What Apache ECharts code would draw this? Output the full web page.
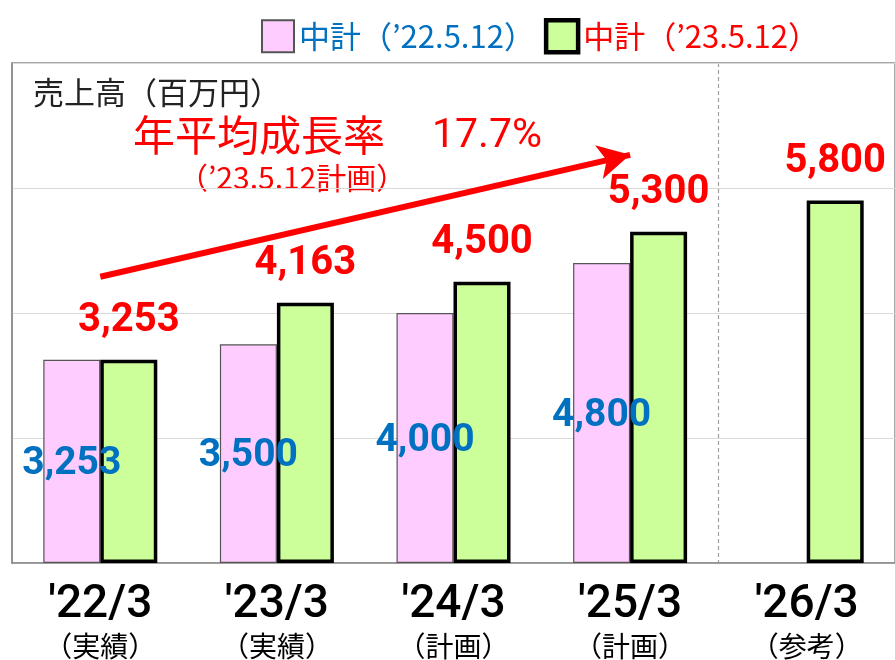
<!DOCTYPE html>
<html>
<head>
<meta charset="utf-8">
<script src="https://cdn.jsdelivr.net/npm/echarts@6/dist/echarts.min.js"></script>
<style>
	html, body { margin: 0; padding: 0; background: #fff; }
	#chart { width: 895px; height: 660px; }
</style>
</head>
<body>
<div id="chart"></div>
<script>
	// 年度（カテゴリ）
	const categories = ["'22/3", "'23/3", "'24/3", "'25/3", "'26/3"]
	const categoryNotes = ['（実績）', '（実績）', '（計画）', '（計画）', '（参考）']

	// 中計 売上高（百万円）
	const plan2022Name = '中計（’22.5.12）'
	const plan2023Name = '中計（’23.5.12）'
	const plan2022 = [3253, 3500, 4000, 4800, null]
	const plan2023 = [3253, 4163, 4500, 5300, 5800]

	// 年平均成長率の矢印（始点・終点の値）
	const arrowFrom = [categories[0], 4580]
	const arrowTo = [categories[3], 6530]

	// 縦軸
	const yMax = 8000
	const yInterval = 2000

	const CJK = '"Noto Sans CJK JP", "Noto Sans", sans-serif'
	const NUM = 'Roboto, "Noto Sans CJK JP", sans-serif'
	const BLUE = '#0070C0'
	const RED = '#FF0000'

	const fmt = (v) => Number(v).toLocaleString('en-US')

	const chart = echarts.init(document.getElementById('chart'))

	const option = {
		animation: false,
		backgroundColor: '#fff',
		grid: {
			left: 12,
			right: -7,
			top: 63,
			bottom: 97,
			show: true,
			borderColor: '#8c8c8c',
			borderWidth: 1.5,
			backgroundColor: 'transparent'
		},
		legend: {
			left: 256,
			top: 13,
			itemWidth: 32,
			itemHeight: 32,
			itemGap: 9,
			icon: 'rect',
			textStyle: { fontFamily: CJK, fontSize: 31 },
			data: [
				{ name: plan2022Name, textStyle: { color: BLUE }, itemStyle: { borderColor: '#555', borderWidth: 2 } },
				{ name: plan2023Name, textStyle: { color: RED }, itemStyle: { borderColor: '#000', borderWidth: 4.5 } }
			]
		},
		xAxis: {
			type: 'category',
			data: categories,
			axisLine: { lineStyle: { color: '#8c8c8c', width: 1.5 } },
			axisTick: { inside: true, length: 14, lineStyle: { color: '#8c8c8c' } },
			axisLabel: {
				margin: 21,
				formatter: (v, i) => '{a|' + v + '}\n{b|' + categoryNotes[i] + '}',
				rich: {
					a: { fontFamily: NUM, fontSize: 46, fontWeight: 500, color: '#000', lineHeight: 44 },
					b: { fontFamily: CJK, fontSize: 28, color: '#000', lineHeight: 36 }
				}
			}
		},
		yAxis: {
			type: 'value',
			min: 0,
			max: yMax,
			interval: yInterval,
			axisLabel: { show: false },
			axisLine: { show: true, lineStyle: { color: '#8c8c8c', width: 1.5 } },
			axisTick: { show: false },
			splitLine: { lineStyle: { color: '#d9d9d9', width: 1 } }
		},
		series: [
			{
				name: plan2022Name,
				type: 'bar',
				data: plan2022,
				barWidth: 57,
				barGap: '0%',
				itemStyle: { color: '#FFCCFF', borderColor: '#555', borderWidth: 1.2 },
				label: {
					show: true,
					position: 'inside',
					offset: [0, 3],
					fontFamily: NUM,
					fontSize: 39,
					fontWeight: 'bold',
					color: BLUE,
					formatter: (p) => fmt(p.value)
				}
			},
			{
				name: plan2023Name,
				type: 'bar',
				data: plan2023,
				barWidth: 57,
				itemStyle: { color: '#CCFF99', borderColor: '#000', borderWidth: 3.5 },
				label: {
					show: true,
					position: 'top',
					distance: 19,
					fontFamily: NUM,
					fontSize: 40,
					fontWeight: 'bold',
					color: RED,
					formatter: (p) => fmt(p.value)
				}
			},
			{
				// 矢印用（カテゴリ中心に合わせるため、データなしの折れ線に付ける）
				name: 'arrow',
				type: 'line',
				data: [],
				markLine: {
					silent: true,
					symbol: ['none', 'arrow'],
					symbolSize: [26, 32],
					label: { show: false },
					lineStyle: { color: RED, width: 6, type: 'solid' },
					data: [[{ coord: arrowFrom }, { coord: arrowTo }]]
				}
			}
		],
		graphic: [
			{
				id: 'unit',
				type: 'text',
				left: 33,
				top: 77,
				style: { text: '売上高（百万円）', font: '31px ' + CJK, fill: '#222' }
			},
			{
				id: 'cagrLabel',
				type: 'text',
				left: 133,
				top: 114,
				style: { text: '年平均成長率', font: '42px ' + CJK, fill: RED }
			},
			{
				id: 'cagrValue',
				type: 'text',
				left: 432,
				top: 116,
				style: { text: '17.7%', font: '41px ' + NUM, fill: RED }
			},
			{
				id: 'cagrNote',
				type: 'text',
				left: 178,
				top: 163,
				style: { text: '（’23.5.12計画）', font: '30px ' + CJK, fill: RED }
			}
		]
	}

	chart.setOption(option)

	// '25/3 と '26/3 の境界に点線
	const x3 = chart.convertToPixel({ xAxisIndex: 0 }, categories[3])
	const x4 = chart.convertToPixel({ xAxisIndex: 0 }, categories[4])
	const yTop = chart.convertToPixel({ yAxisIndex: 0 }, yMax)
	const yBottom = chart.convertToPixel({ yAxisIndex: 0 }, 0)
	const xMid = Math.round((x3 + x4) / 2) + 0.5
	chart.setOption({
		graphic: [
			{
				id: 'divider',
				type: 'line',
				shape: { x1: xMid, y1: yTop, x2: xMid, y2: yBottom },
				style: { stroke: '#a0a0a0', lineWidth: 1.2, lineDash: [4, 3] },
				z: 0
			}
		]
	})
</script>
</body>
</html>
